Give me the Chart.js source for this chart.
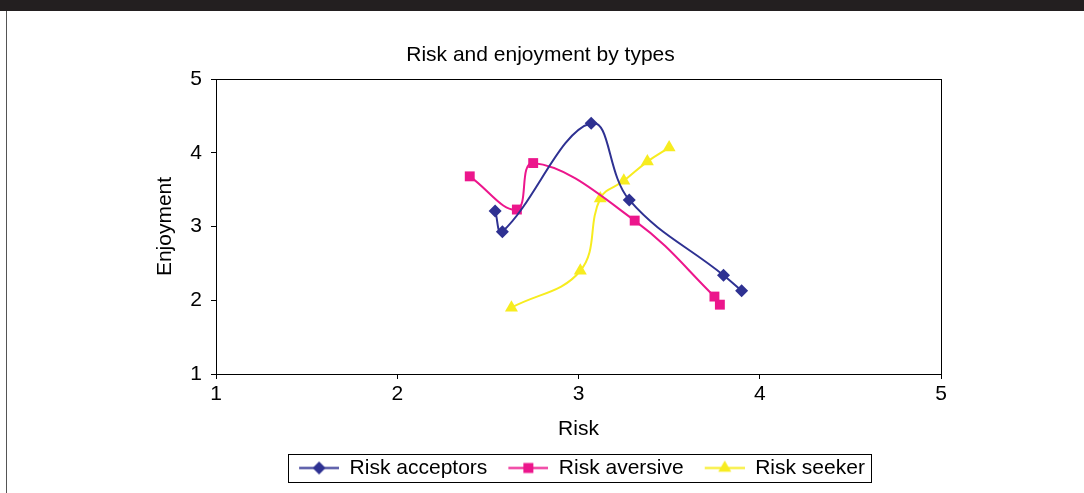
<!DOCTYPE html>
<html>
<head>
<meta charset="utf-8">
<script src="https://cdn.jsdelivr.net/npm/chart.js@4"></script>
<style>
  html, body { margin: 0; padding: 0; background: #ffffff; }
  #wrap { position: relative; width: 1084px; height: 493px; background: #ffffff; overflow: hidden; }
  #topbar { position: absolute; left: 0; top: 0; width: 1084px; height: 11px; background: #231f20; }
  #leftline { position: absolute; left: 6px; top: 11px; width: 1px; height: 482px; background: #555555; }
  canvas { position: absolute; left: 0; top: 0; }
</style>
</head>
<body>
<div id="wrap">
  <canvas id="c" width="1084" height="493"></canvas>
  <div id="topbar"></div>
  <div id="leftline"></div>
</div>
<script>
// ---- Data ----
const seriesNames = ["Risk acceptors", "Risk aversive", "Risk seeker"];

const acceptorsRisk  = [2.54, 2.58, 3.07, 3.28, 3.80, 3.90];
const acceptorsEnjoy = [3.21, 2.93, 4.40, 3.36, 2.34, 2.13];

const aversiveRisk   = [2.40, 2.66, 2.75, 3.31, 3.75, 3.78];
const aversiveEnjoy  = [3.68, 3.23, 3.86, 3.08, 2.05, 1.94];

const seekerRisk     = [2.63, 3.01, 3.12, 3.25, 3.38, 3.50];
const seekerEnjoy    = [1.90, 2.40, 3.38, 3.62, 3.88, 4.07];

const axisMin = 1;
const axisMax = 5;
const axisStep = 1;

// ---- Styling ----
const FONT = "'Liberation Sans', Arial, Helvetica, sans-serif";
const colors = ["#2E3192", "#EC168C", "#F7EC1F"];
const styles = ["rectRot", "rect", "triangle"];
const radii = [6.5, 7, 7.5];

function pairs(xs, ys) { return xs.map((x, i) => ({ x: x, y: ys[i] })); }

function legendIcon(color, shape) {
  const c = document.createElement('canvas');
  c.width = 47; c.height = 21;
  const g = c.getContext('2d');
  g.strokeStyle = color; g.lineWidth = 2;
  g.beginPath(); g.moveTo(7, 10.5); g.lineTo(47, 10.5); g.stroke();
  g.fillStyle = color;
  const cx = 27, cy = 10.5;
  g.beginPath();
  if (shape === 'rectRot') {
    g.moveTo(cx - 6.5, cy); g.lineTo(cx, cy - 6.5); g.lineTo(cx + 6.5, cy); g.lineTo(cx, cy + 6.5);
  } else if (shape === 'rect') {
    g.rect(cx - 5, cy - 5, 10, 10);
  } else {
    g.moveTo(cx, cy - 7.5); g.lineTo(cx + 6.5, cy + 3.75); g.lineTo(cx - 6.5, cy + 3.75);
  }
  g.closePath(); g.fill();
  return c;
}
const icons = colors.map((c, i) => legendIcon(c, styles[i]));

const frameBox = {
  id: 'frameBox',
  afterDraw(chart) {
    const ctx = chart.ctx;
    const a = chart.chartArea;
    ctx.save();
    ctx.strokeStyle = '#000000';
    ctx.lineWidth = 1;
    ctx.strokeRect(Math.round(a.left) + 0.5, Math.round(a.top) + 0.5,
                   Math.round(a.right - a.left), Math.round(a.bottom - a.top));
    const hb = chart.legend.legendHitBoxes;
    if (hb && hb.length) {
      const first = hb[0], last = hb[hb.length - 1];
      const l = first.left + 7 - 11;
      const r = last.left + last.width + 6;
      const t = first.top - 3.5;
      const b = first.top + first.height + 3.5;
      ctx.strokeRect(Math.round(l) + 0.5, Math.round(t) + 0.5, Math.round(r - l), Math.round(b - t));
    }
    ctx.restore();
  }
};

const datasets = [
  [acceptorsRisk, acceptorsEnjoy],
  [aversiveRisk, aversiveEnjoy],
  [seekerRisk, seekerEnjoy]
].map((d, i) => ({
  label: seriesNames[i],
  data: pairs(d[0], d[1]),
  showLine: true,
  borderColor: colors[i],
  backgroundColor: colors[i],
  borderWidth: 2,
  tension: 0.4,
  pointStyle: styles[i],
  pointRadius: radii[i],
  pointHoverRadius: radii[i],
  pointBackgroundColor: colors[i],
  pointBorderColor: colors[i],
  pointBorderWidth: 0
}));

new Chart(document.getElementById('c'), {
  type: 'scatter',
  data: { datasets: datasets },
  options: {
    responsive: false,
    animation: false,
    layout: { padding: { left: 140, right: 143, top: 0, bottom: 4.5 } },
    plugins: {
      title: {
        display: true,
        text: 'Risk and enjoyment by types',
        color: '#000000',
        font: { family: FONT, size: 21, weight: 'normal' },
        padding: { top: 42.4, bottom: 11.4 }
      },
      legend: {
        display: true,
        position: 'bottom',
        fullSize: false,
        labels: {
          color: '#000000',
          font: { family: FONT, size: 21 },
          usePointStyle: true,
          pointStyleWidth: 47,
          padding: 14,
          generateLabels(chart) {
            const items = Chart.defaults.plugins.legend.labels.generateLabels(chart);
            items.forEach((it, i) => { it.pointStyle = icons[i]; it.fontColor = '#000000'; });
            return items;
          }
        }
      },
      tooltip: { enabled: false }
    },
    scales: {
      x: {
        type: 'linear',
        min: axisMin, max: axisMax,
        border: { display: true, color: '#000000', width: 1 },
        grid: { drawOnChartArea: false, drawTicks: true, tickLength: 5, color: '#000000' },
        ticks: { stepSize: axisStep, color: '#000000', padding: 3, font: { family: FONT, size: 21 } },
        title: { display: true, text: 'Risk', color: '#000000', font: { family: FONT, size: 21 }, padding: { top: 6.2, bottom: 1.9 } }
      },
      y: {
        type: 'linear',
        min: axisMin, max: axisMax,
        border: { display: true, color: '#000000', width: 1 },
        grid: { drawOnChartArea: false, drawTicks: true, tickLength: 5, color: '#000000' },
        ticks: { stepSize: axisStep, color: '#000000', padding: 9, font: { family: FONT, size: 21 } },
        title: { display: true, text: 'Enjoyment', color: '#000000', font: { family: FONT, size: 21 }, padding: { top: 12.4, bottom: 0 } },
        afterFit(scale) { scale.width = 76; }
      }
    }
  },
  plugins: [frameBox]
});
</script>
</body>
</html>
